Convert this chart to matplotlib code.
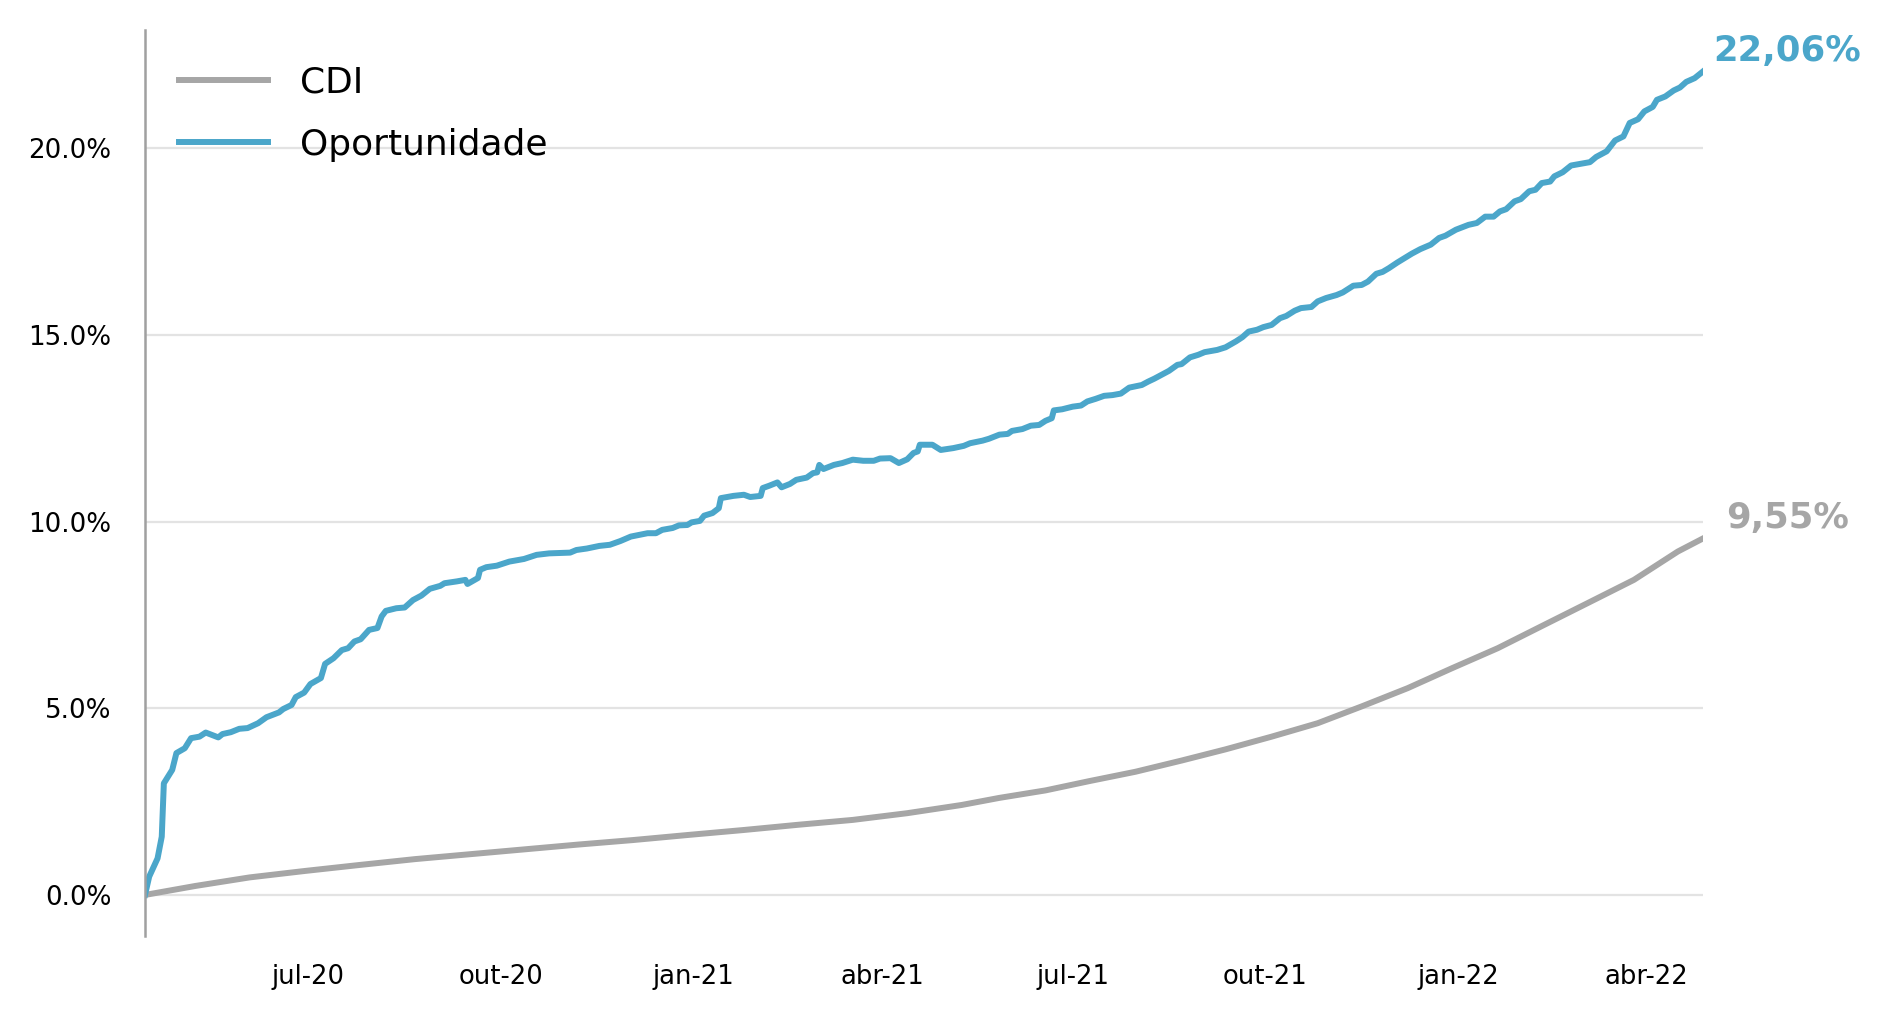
import matplotlib
matplotlib.use("Agg")
import matplotlib.pyplot as plt
import matplotlib.dates as mdates
import pandas as pd

# Cumulative return (%)
oport_dates = [
    "2020-04-14", "2020-04-16", "2020-04-20", "2020-04-22", "2020-04-23", "2020-04-27",
    "2020-04-29", "2020-05-03", "2020-05-06", "2020-05-10", "2020-05-13", "2020-05-19",
    "2020-05-21", "2020-05-25", "2020-05-29", "2020-06-02", "2020-06-07", "2020-06-11",
    "2020-06-17", "2020-06-19", "2020-06-23", "2020-06-25", "2020-06-29", "2020-07-02",
    "2020-07-07", "2020-07-09", "2020-07-13", "2020-07-17", "2020-07-20", "2020-07-23",
    "2020-07-26", "2020-07-30", "2020-08-03", "2020-08-05", "2020-08-07", "2020-08-12",
    "2020-08-16", "2020-08-20", "2020-08-24", "2020-08-28", "2020-09-02", "2020-09-04",
    "2020-09-10", "2020-09-14", "2020-09-15", "2020-09-20", "2020-09-21", "2020-09-24",
    "2020-09-29", "2020-10-05", "2020-10-12", "2020-10-18", "2020-10-24", "2020-11-03",
    "2020-11-06", "2020-11-11", "2020-11-17", "2020-11-22", "2020-11-27", "2020-12-02",
    "2020-12-10", "2020-12-14", "2020-12-17", "2020-12-22", "2020-12-25", "2020-12-29",
    "2020-12-31", "2021-01-04", "2021-01-06", "2021-01-10", "2021-01-13", "2021-01-14",
    "2021-01-20", "2021-01-25", "2021-01-28", "2021-02-02", "2021-02-03", "2021-02-06",
    "2021-02-10", "2021-02-12", "2021-02-16", "2021-02-19", "2021-02-24", "2021-02-27",
    "2021-03-01", "2021-03-02", "2021-03-04", "2021-03-09", "2021-03-13", "2021-03-18",
    "2021-03-23", "2021-03-28", "2021-03-31", "2021-04-05", "2021-04-09", "2021-04-13",
    "2021-04-16", "2021-04-18", "2021-04-19", "2021-04-25", "2021-04-29", "2021-05-05",
    "2021-05-10", "2021-05-13", "2021-05-19", "2021-05-22", "2021-05-27", "2021-05-31",
    "2021-06-02", "2021-06-07", "2021-06-11", "2021-06-15", "2021-06-18", "2021-06-21",
    "2021-06-22", "2021-06-26", "2021-07-01", "2021-07-05", "2021-07-08", "2021-07-12",
    "2021-07-16", "2021-07-20", "2021-07-24", "2021-07-28", "2021-08-03", "2021-08-06",
    "2021-08-09", "2021-08-13", "2021-08-16", "2021-08-20", "2021-08-22", "2021-08-26",
    "2021-08-30", "2021-09-02", "2021-09-08", "2021-09-12", "2021-09-17", "2021-09-20",
    "2021-09-23", "2021-09-27", "2021-09-30", "2021-10-04", "2021-10-08", "2021-10-11",
    "2021-10-15", "2021-10-18", "2021-10-23", "2021-10-26", "2021-10-30", "2021-11-04",
    "2021-11-07", "2021-11-12", "2021-11-16", "2021-11-19", "2021-11-23", "2021-11-26",
    "2021-11-29", "2021-12-03", "2021-12-10", "2021-12-14", "2021-12-19", "2021-12-23",
    "2021-12-26", "2021-12-31", "2022-01-06", "2022-01-10", "2022-01-14", "2022-01-18",
    "2022-01-21", "2022-01-24", "2022-01-28", "2022-01-31", "2022-02-04", "2022-02-07",
    "2022-02-10", "2022-02-14", "2022-02-16", "2022-02-20", "2022-02-24", "2022-02-28",
    "2022-03-05", "2022-03-08", "2022-03-13", "2022-03-17", "2022-03-21", "2022-03-24",
    "2022-03-28", "2022-03-31", "2022-04-04", "2022-04-06", "2022-04-10", "2022-04-14",
    "2022-04-17", "2022-04-20", "2022-04-24", "2022-04-28",
]
oport_values = [
    0.00, 0.49, 0.98, 1.56, 2.99, 3.35,
    3.80, 3.93, 4.20, 4.24, 4.35, 4.22,
    4.31, 4.36, 4.45, 4.47, 4.60, 4.76,
    4.89, 4.98, 5.09, 5.30, 5.42, 5.65,
    5.81, 6.19, 6.34, 6.56, 6.61, 6.79,
    6.85, 7.10, 7.15, 7.46, 7.61, 7.68,
    7.70, 7.90, 8.02, 8.20, 8.28, 8.35,
    8.40, 8.44, 8.33, 8.49, 8.71, 8.78,
    8.82, 8.93, 9.00, 9.11, 9.15, 9.17,
    9.24, 9.28, 9.35, 9.38, 9.48, 9.60,
    9.69, 9.69, 9.78, 9.83, 9.90, 9.91,
    9.98, 10.02, 10.16, 10.23, 10.36, 10.63,
    10.69, 10.72, 10.66, 10.69, 10.90, 10.96,
    11.05, 10.92, 11.01, 11.12, 11.18, 11.30,
    11.32, 11.52, 11.41, 11.52, 11.57, 11.66,
    11.63, 11.63, 11.69, 11.70, 11.57, 11.67,
    11.84, 11.88, 12.06, 12.06, 11.92, 11.97,
    12.03, 12.10, 12.17, 12.22, 12.33, 12.35,
    12.43, 12.48, 12.57, 12.59, 12.70, 12.77,
    12.98, 13.01, 13.08, 13.11, 13.22, 13.29,
    13.37, 13.39, 13.43, 13.59, 13.66, 13.75,
    13.83, 13.95, 14.04, 14.20, 14.22, 14.40,
    14.47, 14.54, 14.60, 14.67, 14.83, 14.94,
    15.09, 15.14, 15.21, 15.27, 15.45, 15.51,
    15.65, 15.72, 15.75, 15.90, 15.99, 16.07,
    16.14, 16.32, 16.34, 16.43, 16.64, 16.69,
    16.79, 16.94, 17.18, 17.30, 17.42, 17.60,
    17.66, 17.82, 17.95, 18.00, 18.17, 18.17,
    18.31, 18.37, 18.58, 18.64, 18.85, 18.89,
    19.07, 19.11, 19.25, 19.36, 19.54, 19.58,
    19.63, 19.77, 19.92, 20.21, 20.32, 20.68,
    20.78, 20.99, 21.11, 21.30, 21.39, 21.55,
    21.63, 21.78, 21.88, 22.06,
]

cdi_dates = [
    "2020-04-14", "2020-05-08", "2020-06-03", "2020-06-29", "2020-07-25", "2020-08-21",
    "2020-09-16", "2020-10-12", "2020-11-07", "2020-12-03", "2020-12-30", "2021-01-25",
    "2021-02-20", "2021-03-18", "2021-04-13", "2021-05-09", "2021-05-27", "2021-06-18",
    "2021-07-09", "2021-07-31", "2021-08-22", "2021-09-12", "2021-10-04", "2021-10-26",
    "2021-11-16", "2021-12-08", "2021-12-29", "2022-01-20", "2022-02-11", "2022-03-04",
    "2022-03-26", "2022-04-16", "2022-04-28",
]
cdi_values = [
    0.00, 0.24, 0.47, 0.64, 0.80, 0.96,
    1.09, 1.22, 1.35, 1.47, 1.61, 1.74,
    1.88, 2.01, 2.19, 2.41, 2.60, 2.80,
    3.05, 3.30, 3.60, 3.90, 4.24, 4.60,
    5.05, 5.54, 6.07, 6.61, 7.23, 7.82,
    8.44, 9.20, 9.55,
]

month_abbr_pt = ["jan", "fev", "mar", "abr", "mai", "jun",
                 "jul", "ago", "set", "out", "nov", "dez"]
y_ticks = [0, 5, 10, 15, 20]

BLUE = "#4ba6ca"
GREY = "#a6a6a6"

plt.rcParams["font.family"] = "DejaVu Sans"

fig = plt.figure(figsize=(18.93, 10.23), dpi=100)
ax = fig.add_axes([145 / 1893, 87 / 1023, 1558 / 1893, 906 / 1023])

oport_x = pd.to_datetime(oport_dates)
cdi_x = pd.to_datetime(cdi_dates)

ax.plot(cdi_x, cdi_values, color=GREY, lw=4.3, label="CDI", solid_joinstyle="round")
ax.plot(oport_x, oport_values, color=BLUE, lw=4.3, label="Oportunidade",
        solid_joinstyle="round")

# final value labels
ax.annotate(f"{oport_values[-1]:.2f}%".replace(".", ","),
            xy=(oport_x[-1], oport_values[-1]), xytext=(10, 20),
            textcoords="offset pixels", ha="left", va="center",
            fontsize=25.5, fontweight="bold", color=BLUE)
ax.annotate(f"{cdi_values[-1]:.2f}%".replace(".", ","),
            xy=(cdi_x[-1], cdi_values[-1]), xytext=(23, 20),
            textcoords="offset pixels", ha="left", va="center",
            fontsize=25.5, fontweight="bold", color=GREY)

ax.set_xlim(pd.Timestamp("2020-04-14"), pd.Timestamp("2022-04-28"))
ax.set_ylim(-1.10, 23.17)

ax.set_yticks(y_ticks)
ax.set_yticklabels([f"{v:.1f}%" for v in y_ticks])
ax.xaxis.set_major_locator(mdates.MonthLocator(bymonth=[1, 4, 7, 10]))
ax.xaxis.set_major_formatter(plt.FuncFormatter(
    lambda v, pos: "{}-{}".format(month_abbr_pt[mdates.num2date(v).month - 1],
                                  mdates.num2date(v).strftime("%y"))))

ax.tick_params(axis="y", length=0, pad=24, labelsize=18.8)
ax.tick_params(axis="x", length=0, pad=20, labelsize=18.6)

ax.grid(axis="y", color="#e3e3e3", lw=1.6)
ax.set_axisbelow(True)
for side in ["top", "right", "bottom"]:
    ax.spines[side].set_visible(False)
ax.spines["left"].set_color("#a0a0a0")
ax.spines["left"].set_linewidth(1.8)

ax.legend(loc="upper left", bbox_to_anchor=(179 / 1893, 1 - 66 / 1023),
          bbox_transform=fig.transFigure, frameon=False, fontsize=25.9,
          borderpad=0, borderaxespad=0, handlelength=2.48, handletextpad=0.89,
          labelspacing=0.77)

fig.savefig("out.png", dpi=100)
